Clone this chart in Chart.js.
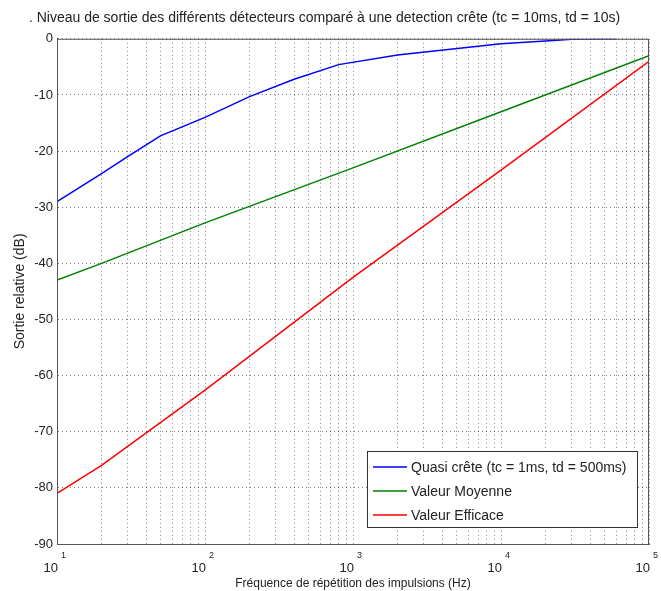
<!DOCTYPE html>
<html>
<head>
<meta charset="utf-8">
<script src="https://cdn.jsdelivr.net/npm/chart.js@4.4.1/dist/chart.umd.min.js"></script>
<style>
html,body{margin:0;padding:0;background:#fff;}
#wrap{width:661px;height:591px;}
</style>
</head>
<body>
<div id="wrap"><canvas id="c" width="661" height="591"></canvas></div>
<script>
const titleText = ". Niveau de sortie des différents détecteurs comparé à une detection crête (tc = 10ms, td = 10s)";
const xTitle = "Fréquence de répétition des impulsions (Hz)";
const yTitle = "Sortie relative (dB)";

const seriesNames = ["Quasi crête (tc = 1ms, td = 500ms)", "Valeur Moyenne", "Valeur Efficace"];
const seriesColors = ["#0000ff", "#008000", "#ff0000"];

const quasiFreq = [10, 20, 30, 50, 100, 200, 400, 800, 2000, 10000, 20000, 30000, 60000];
const quasiDb = [-29, -24, -21, -17.3, -14, -10.3, -7.2, -4.6, -2.9, -0.9, -0.4, -0.1, 0];

const moyFreq = [10, 20, 100, 1000, 10000, 100000];
const moyDb = [-43, -40, -32.8, -23, -13, -3];

const effFreq = [10, 20, 100, 1000, 10000, 100000];
const effDb = [-81, -76, -62.6, -42.5, -23.4, -4];

const yTicks = [0, -10, -20, -30, -40, -50, -60, -70, -80, -90];
const xDecades = [10, 100, 1000, 10000, 100000];

const FONT = "'Liberation Sans', Arial, sans-serif";

function pts(xs, ys){
return xs.map((x,i)=>({x:x, y:ys[i]}));
}

const frame = {
id:"frame",
afterDraw(chart){
const ctx = chart.ctx;
const a = chart.chartArea;
ctx.save();
ctx.strokeStyle = "#555";
ctx.lineWidth = 1;
ctx.strokeRect(a.left+0.5, a.top+0.5, a.right-a.left-1, a.bottom-a.top);
// x decade labels with exponent
const xs = chart.scales.x;
ctx.fillStyle = "#222";
ctx.textBaseline = "alphabetic";
xDecades.forEach(v=>{
const px = xs.getPixelForValue(v);
const exp = String(Math.round(Math.log10(v)));
ctx.font = "13px " + FONT;
ctx.textAlign = "right";
ctx.fillText("10", px+1, 572);
ctx.font = "9px " + FONT;
ctx.textAlign = "left";
ctx.fillText(exp, px+4, 558);
});
// legend inside plot
const lx = 367, ly = 451, lw = 270, lh = 76;
ctx.fillStyle = "#fff";
ctx.fillRect(lx, ly, lw, lh);
ctx.strokeStyle = "#333";
ctx.strokeRect(lx+0.5, ly+0.5, lw, lh);
chart.data.datasets.forEach((ds,i)=>{
const yy = ly + 16 + i*24;
ctx.strokeStyle = ds.borderColor;
ctx.lineWidth = 1.5;
ctx.beginPath();
ctx.moveTo(lx+6, yy);
ctx.lineTo(lx+40, yy);
ctx.stroke();
ctx.fillStyle = "#222";
ctx.font = "14px " + FONT;
ctx.textAlign = "left";
ctx.textBaseline = "middle";
ctx.fillText(ds.label, lx+44, yy+1);
});
ctx.restore();
}
};

new Chart(document.getElementById("c"), {
type:"line",
data:{
datasets:[
{label:seriesNames[0], data:pts(quasiFreq, quasiDb), borderColor:seriesColors[0]},
{label:seriesNames[1], data:pts(moyFreq, moyDb), borderColor:seriesColors[1]},
{label:seriesNames[2], data:pts(effFreq, effDb), borderColor:seriesColors[2]}
]
},
options:{
responsive:false,
animation:false,
layout:{padding:{left:0, right:12, top:0, bottom:0}},
elements:{
line:{borderWidth:1.5, tension:0, fill:false},
point:{radius:0}
},
plugins:{
legend:{display:false},
tooltip:{enabled:false},
title:{
display:true,
text:titleText,
color:"#222",
font:{size:14, family:FONT, weight:"normal"},
padding:{top:10, bottom:12}
}
},
scales:{
x:{
type:"logarithmic",
min:10,
max:100000,
afterBuildTicks(scale){
const t = [];
for(let d=10; d<100000; d*=10){
for(let k=1; k<10; k++) t.push({value:d*k});
}
t.push({value:100000});
scale.ticks = t;
},
afterFit(scale){ scale.height = 47; },
ticks:{callback:()=>"", autoSkip:false, maxRotation:0},
grid:{color:"rgba(0,0,0,0.5)", lineWidth:1, drawTicks:false},
border:{display:true, color:"#555", dash:[1,3]},
title:{
display:true,
text:xTitle,
color:"#222",
font:{size:12, family:FONT},
padding:{top:0, bottom:0}
}
},
y:{
min:-90,
max:0,
afterBuildTicks(scale){
scale.ticks = yTicks.map(v=>({value:v}));
},
afterFit(scale){ scale.width = 57; },
ticks:{
color:"#222",
padding:4,
font:{size:13, family:FONT}
},
grid:{color:"rgba(0,0,0,0.5)", lineWidth:1, drawTicks:false},
border:{display:true, color:"#555", dash:[1,3]},
title:{
display:true,
text:yTitle,
color:"#222",
font:{size:14, family:FONT},
padding:{top:12, bottom:0}
}
}
}
},
plugins:[frame]
});
</script>
</body>
</html>
